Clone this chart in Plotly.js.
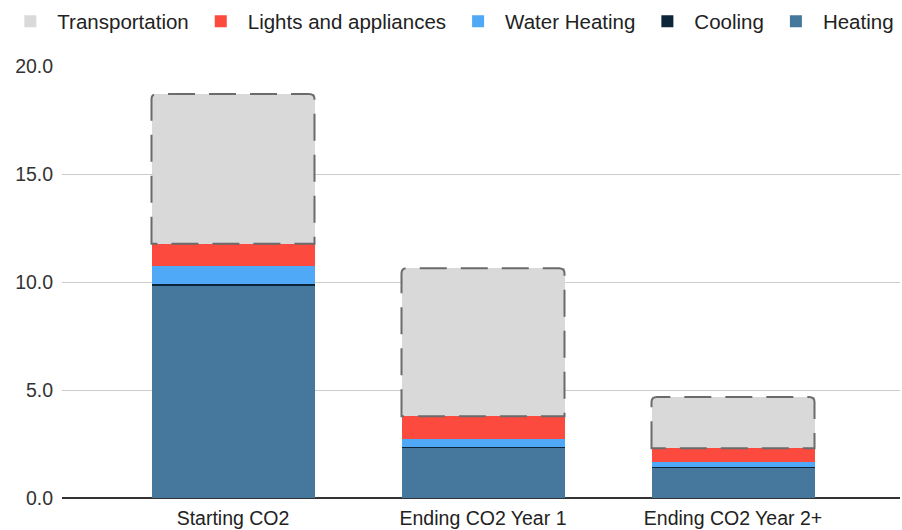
<!DOCTYPE html>
<html>
<head>
<meta charset="utf-8">
<script src="https://cdn.plot.ly/plotly-3.0.1.min.js"></script>
<style>html,body{margin:0;padding:0;background:#fff;}#chart{width:902px;height:530px;}</style>
</head>
<body>
<div id="chart"></div>
<script>
const categories = ['Starting CO2', 'Ending CO2 Year 1', 'Ending CO2 Year 2+'];
const heating = [9.82, 2.31, 1.38];
const cooling = [0.07, 0.07, 0.07];
const waterHeating = [0.83, 0.33, 0.20];
const lights = [1.05, 1.08, 0.65];
const transportation = [6.93, 6.85, 2.38];
const yTicks = [0, 5, 10, 15, 20];

const barWidth = 0.652;
const colors = {
  heating: '#46789d',
  cooling: '#0c2539',
  water: '#4fa9f7',
  lights: '#fd4a3e',
  transport: '#d9d9d9'
};

function bar(name, y, color) {
  return {
    type: 'bar', name: name, x: categories, y: y,
    width: barWidth,
    marker: {color: color, line: {width: 0}},
    hoverinfo: 'skip'
  };
}

const traces = [
  bar('Heating', heating, colors.heating),
  bar('Cooling', cooling, colors.cooling),
  bar('Water Heating', waterHeating, colors.water),
  bar('Lights and appliances', lights, colors.lights),
  bar('Transportation', transportation, colors.transport)
];

// dashed rounded outline around the transportation segment, derived from the data
const shapes = categories.map((c, i) => {
  const base = heating[i] + cooling[i] + waterHeating[i] + lights[i];
  const top = base + transportation[i];
  const x0 = i - barWidth / 2, x1 = i + barWidth / 2;
  const rx = 0.022, ry = 0.24;
  const p = [
    'M', x0, base,
    'L', x0, top - ry,
    'Q', x0, top, x0 + rx, top,
    'L', x1 - rx, top,
    'Q', x1, top, x1, top - ry,
    'L', x1, base,
    'Z'
  ].join(' ');
  return {
    type: 'path', xref: 'x', yref: 'y', path: p,
    line: {color: '#6b6b6b', width: 2, dash: '27px,14px'},
    fillcolor: 'rgba(0,0,0,0)', layer: 'above'
  };
});

const layout = {
  width: 902, height: 530,
  margin: {l: 62, r: 2, t: 65, b: 32, pad: 0},
  paper_bgcolor: '#ffffff', plot_bgcolor: '#ffffff',
  font: {family: 'Arial, "Liberation Sans", sans-serif', size: 20, color: '#222'},
  barmode: 'stack',
  bargap: 0,
  showlegend: true,
  legend: {
    orientation: 'h', traceorder: 'reversed',
    x: -0.07, xanchor: 'left', y: 1.147, yanchor: 'top',
    itemwidth: 44,
    font: {size: 20.5, color: '#222'},
    bgcolor: 'rgba(0,0,0,0)'
  },
  xaxis: {
    type: 'category',
    range: [-0.684, 2.668],
    showgrid: false, zeroline: false, showline: false,
    ticks: 'outside', ticklen: 3, tickcolor: 'rgba(0,0,0,0)',
    tickfont: {size: 19.5, color: '#222'},
    fixedrange: true
  },
  yaxis: {
    range: [0, 20],
    tickvals: yTicks,
    tickformat: '.1f',
    showgrid: true, gridcolor: '#cccccc', gridwidth: 1,
    zeroline: true, zerolinecolor: '#333333', zerolinewidth: 1.5,
    showline: false,
    ticks: 'outside', ticklen: 4, tickcolor: 'rgba(0,0,0,0)',
    tickfont: {size: 19.5, color: '#333'},
    fixedrange: true
  },
  shapes: shapes
};

Plotly.newPlot('chart', traces, layout, {displayModeBar: false, staticPlot: true});
</script>
</body>
</html>
